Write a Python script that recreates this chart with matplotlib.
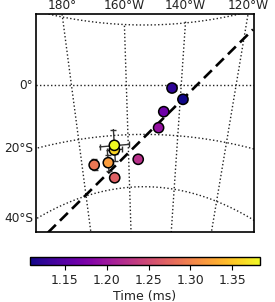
import numpy as np
import matplotlib
matplotlib.use("Agg")
import matplotlib.pyplot as plt
from matplotlib.colors import Normalize
from matplotlib.cm import ScalarMappable

lon = [-139.0, -143.3, -146.0, -147.8, -156.0, -166.4, -174.8, -168.7, -165.8, -165.7]
lat = [-5.6, -1.2, -10.7, -17.2, -29.5, -35.8, -29.9, -29.9, -25.4, -23.7]
time_ms = [1.110, 1.125, 1.165, 1.195, 1.225, 1.270, 1.290, 1.320, 1.360, 1.383]
lon_err = [1.5, 1.5, 0.5, 0.5, 0.5, 0.5, 0.5, 2.0, 3.0, 6.0]
lat_err = [0.5, 1.0, 0.5, 1.0, 0.5, 0.5, 2.0, 3.0, 1.5, 6.0]
trend_lon = [-201.4, -117.5]
trend_lat = [-45.7, 15.0]
grid_lons = [-180, -160, -140, -120]
grid_lats = [20, 0, -20, -40]
lon_labels = ["180°", "160°W", "140°W", "120°W"]
lat_labels = ["0°", "20°S", "40°S"]
cbar_ticks = [1.15, 1.20, 1.25, 1.30, 1.35]
T_MIN, T_MAX = 1.108, 1.383

W, H = 275, 302
L, R, T, B = 36, 253.5, 13.5, 232


def project(lo, la):
    lo = np.asarray(lo, float)
    la = np.asarray(la, float)
    base = np.interp(-la, [-20, 0, 20, 40, 60], [25, 85, 134.4, 186.7, 238.5])
    y = base.copy()
    for _ in range(4):
        s = 54.9 - 0.1 * (y - 85)
        dx = (lo + 153.6) / 20 * s
        y = base - 0.0033 * np.tan(np.radians(la)) * dx ** 2
    s = 54.9 - 0.1 * (y - 85)
    return 143.9 + (lo + 153.6) / 20 * s, y


fig = plt.figure(figsize=(W / 100, H / 100), dpi=100)
ax = fig.add_axes([L / W, 1 - B / H, (R - L) / W, (B - T) / H])
ax.set_xlim(L, R)
ax.set_ylim(B, T)
ax.set_xticks([])
ax.set_yticks([])
for sp in ax.spines.values():
    sp.set_linewidth(1.2)

for g in grid_lons:
    la = np.linspace(-75, 35, 120)
    ax.plot(*project(np.full_like(la, g), la), ls=":", color="#222222", lw=1, zorder=1)
for g in grid_lats:
    lo = np.linspace(-225, -80, 200)
    ax.plot(*project(lo, np.full_like(lo, g)), ls=":", color="#222222", lw=1, zorder=1)

tx, ty = project(trend_lon, trend_lat)
ax.plot(tx, ty, color="k", lw=1.9, dashes=(4.2, 2.2), zorder=2)

norm = Normalize(T_MIN, T_MAX)
cmap = plt.get_cmap("plasma")
px, py = project(lon, lat)
for i in range(len(lon)):
    xa, ya = project([lon[i] - lon_err[i], lon[i] + lon_err[i]], [lat[i]] * 2)
    xb, yb = project([lon[i]] * 2, [lat[i] - lat_err[i], lat[i] + lat_err[i]])
    ax.plot(xa, ya, color="#333333", lw=1, zorder=3)
    ax.plot(xb, yb, color="#333333", lw=1, zorder=3)
    ax.plot(xa, ya, ls="none", marker="|", ms=4.5, mew=1, color="#333333", zorder=3)
    ax.plot(xb, yb, ls="none", marker="_", ms=4.5, mew=1, color="#333333", zorder=3)
ax.scatter(px, py, c=time_ms, cmap=cmap, norm=norm, s=54, edgecolors="k", linewidths=1.1, zorder=4)

# graticule labels sit where each line meets the frame
for g, text in zip(grid_lons, lon_labels):
    la = np.linspace(-20, 35, 300)
    x, y = project(np.full_like(la, g), la)
    xt = np.interp(T, y[::-1], x[::-1])
    ax.annotate(text, (xt, T), xytext=(0, 3), textcoords="offset points", ha="center", va="baseline",
                fontsize=8.7, color="#222222", annotation_clip=False)
for g, text in zip(grid_lats[1:], lat_labels):
    lo = np.linspace(-240, -150, 400)
    x, y = project(lo, np.full_like(lo, g))
    yt = np.interp(L, x, y)
    ax.annotate(text, (L, yt), xytext=(-2, 0), textcoords="offset points", ha="right", va="center",
                fontsize=8.7, color="#222222", annotation_clip=False)

cax = fig.add_axes([29.5 / W, 1 - 265 / H, 230.5 / W, 8 / H])
cb = fig.colorbar(ScalarMappable(norm=norm, cmap=cmap), cax=cax, orientation="horizontal")
cb.set_ticks(cbar_ticks)
cb.set_ticklabels([f"{v:.2f}" for v in cbar_ticks])
cb.ax.tick_params(labelsize=9, length=3.5, width=0.8, pad=3, labelcolor="#222222")
cb.set_label("Time (ms)", fontsize=9, labelpad=2, color="#222222")
cb.outline.set_linewidth(1.0)

fig.savefig("out.png", dpi=100)
